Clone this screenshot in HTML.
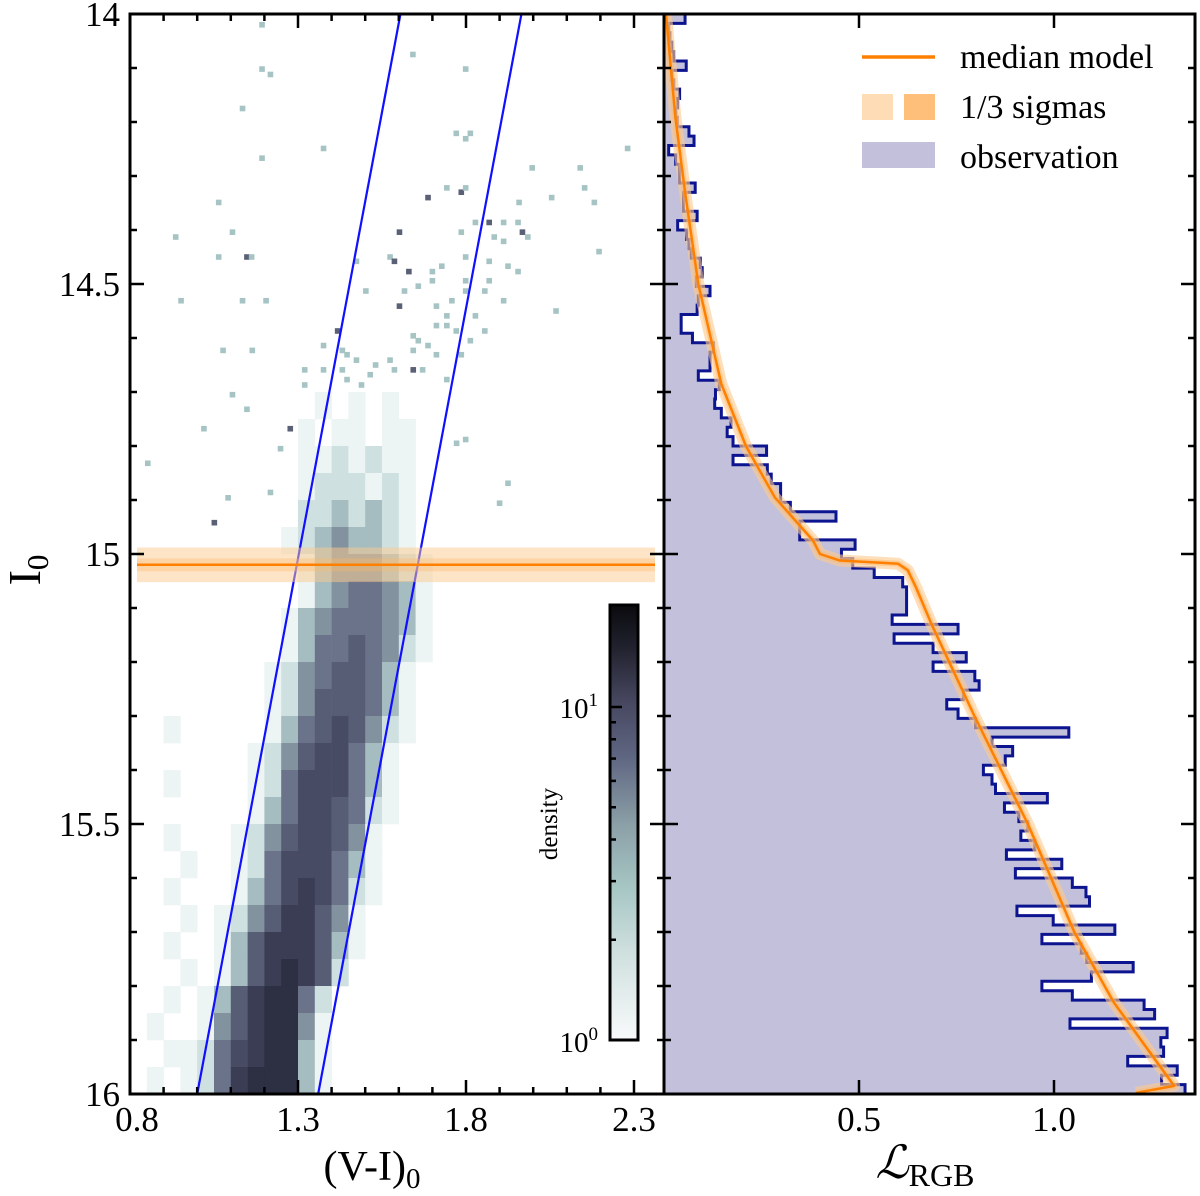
<!DOCTYPE html>
<html><head><meta charset="utf-8"><style>
html,body{margin:0;padding:0;background:#fff;}
svg{display:block;font-family:"Liberation Serif",serif;}
</style></head><body>
<svg id="chart" width="1200" height="1196" viewBox="0 0 1200 1196" xmlns="http://www.w3.org/2000/svg">
<defs>
<linearGradient id="cbar" x1="0" y1="1" x2="0" y2="0">
<stop offset="0" stop-color="#f8fafa"/><stop offset="0.2" stop-color="#cfe0df"/><stop offset="0.35" stop-color="#a6c6c4"/>
<stop offset="0.5" stop-color="#8a9ea6"/><stop offset="0.65" stop-color="#5f6682"/><stop offset="0.78" stop-color="#46465f"/>
<stop offset="0.9" stop-color="#22222f"/><stop offset="1" stop-color="#0a0a0e"/></linearGradient>
<clipPath id="clipL"><rect x="130" y="14" width="534" height="1080"/></clipPath>
<clipPath id="clipR"><rect x="664" y="14" width="531" height="1080"/></clipPath>
</defs>
<g id="left" clip-path="url(#clipL)"></g>
<g id="right" clip-path="url(#clipR)"></g>
<g id="axes"></g>
</svg>
<script>
// ---- data ----
const gridMagStart = 14.70;
const gridColorStart = 0.85;
const gridRows = [
"0000000000101010000000","0000000001011011000000","0000000001121211000000","0000000001222121000000",
"0000000002232321000000","0000000012343321000000","0000000001344432100000","0000000001345543100000",
"0000000013455543100000","0000000013556542100000","0000000124566531000000","0000000124666531000000",
"0100000135676421000000","0000001246775310000000","0100001257775310000000","0000001357765210000000",
"0100012467764100000000","0010012577753100000000","0100013578752100000000","0010124688641000000000",
"0100136888631000000000","0010136898620000000000","0101368995200000000000","1001468994100000000000",
"0112578993100000000000","1012589993100000000000"];
const ptsColor = [1.193,1.642,1.193,1.218,1.799,1.135,1.771,1.799,1.813,1.376,2.281,1.193,1.997,2.140,1.743,1.786,1.799,1.687,1.064,2.153,2.182,1.958,2.055,1.828,1.869,1.912,1.955,1.602,1.786,1.968,1.884,1.984,1.912,0.936,1.105,1.064,1.148,1.162,2.196,1.474,1.574,1.587,1.799,1.869,1.630,1.700,1.728,1.925,1.955,1.700,1.799,1.869,0.952,1.135,1.205,1.502,1.617,1.658,1.799,1.856,1.602,1.712,1.758,1.912,2.068,1.743,1.828,1.712,1.743,1.771,1.856,1.418,1.643,1.658,1.687,1.813,1.376,1.077,1.164,1.432,1.446,1.643,1.712,1.786,1.474,1.574,1.320,1.376,1.432,1.531,1.587,1.643,1.671,1.515,1.446,1.743,1.320,1.489,1.105,1.148,1.020,1.277,0.853,1.925,1.900,1.218,1.092,1.051,1.248,1.772,1.799];
const ptsMag = [14.020,14.075,14.102,14.112,14.102,14.175,14.221,14.231,14.221,14.249,14.249,14.267,14.285,14.285,14.322,14.330,14.322,14.340,14.349,14.322,14.349,14.349,14.340,14.386,14.386,14.386,14.386,14.404,14.404,14.404,14.413,14.413,14.421,14.413,14.404,14.450,14.450,14.450,14.440,14.458,14.450,14.458,14.450,14.458,14.477,14.477,14.467,14.467,14.477,14.494,14.494,14.494,14.531,14.531,14.531,14.513,14.513,14.504,14.513,14.513,14.541,14.541,14.531,14.531,14.550,14.559,14.559,14.577,14.577,14.587,14.587,14.587,14.596,14.605,14.614,14.605,14.614,14.623,14.623,14.623,14.631,14.623,14.631,14.631,14.641,14.641,14.659,14.659,14.659,14.650,14.659,14.659,14.659,14.668,14.677,14.677,14.687,14.687,14.705,14.732,14.768,14.768,14.832,14.869,14.906,14.886,14.896,14.942,14.805,14.795,14.788];
const ptsDark = [0,0,0,0,0,0,0,0,0,0,0,0,0,0,0,1,0,1,0,0,0,0,0,0,1,0,0,1,0,1,0,0,0,0,0,0,1,0,0,0,0,1,0,0,1,0,0,0,0,0,0,0,0,0,0,0,0,0,0,0,1,0,0,0,0,0,0,0,0,0,0,1,0,0,0,0,0,0,0,0,0,0,0,0,0,0,0,0,0,0,0,1,0,0,0,0,0,0,0,0,0,1,0,0,0,0,0,1,0,0,0];
const boxLeftColor = [1.0, 1.605];
const boxRightColor = [1.36, 1.965];
const boxMag = [16.0, 14.0];
const trgbMag = 15.02;
const trgbSig1 = 0.012;
const trgbSig3 = 0.032;
const histStart = 14.0, histEnd = 16.0;
const histValues = [0.054,0.012,0.015,0.02,0.025,0.057,0.02,0.025,0.04,0.035,0.03,0.034,0.064,0.077,0.012,0.03,0.04,0.04,0.08,0.05,0.05,0.085,0.035,0.058,0.064,0.07,0.093,0.098,0.083,0.118,0.088,0.085,0.044,0.044,0.073,0.127,0.118,0.118,0.088,0.142,0.132,0.13,0.147,0.172,0.162,0.177,0.263,0.177,0.265,0.275,0.299,0.299,0.324,0.441,0.348,0.348,0.49,0.455,
0.484,0.539,0.612,0.622,0.622,0.622,0.585,0.754,0.590,0.690,0.775,0.690,0.797,0.808,0.768,0.725,0.754,0.799,1.038,0.841,0.894,0.875,0.819,0.841,0.850,0.983,0.873,0.910,0.933,0.915,0.951,0.878,1.020,0.901,1.047,1.082,1.091,0.905,0.998,1.156,0.969,1.070,1.084,1.203,1.096,0.969,1.047,1.231,1.258,1.041,1.290,1.274,1.281,1.189,1.316,1.276,1.336];
const modelMag = [14.0,14.19,14.33,14.5,14.685,14.8,14.895,14.975,15.0,15.012,15.018,15.03,15.06,15.13,15.3,15.5,15.7,15.83,15.985,15.998];
const modelL =   [0.005,0.029,0.054,0.088,0.147,0.21,0.284,0.382,0.40,0.45,0.60,0.625,0.645,0.686,0.796,0.933,1.052,1.153,1.308,1.21];
const xTicksLeft = [0.8,1.3,1.8,2.3];
const xTicksRight = [0.5,1.0];
const yTicks = [14,14.5,15,15.5,16];

// ---- scales ----
const lx = c => 130 + (c - 0.8) * 336;
const yy = m => 14 + (m - 14) * 540;
const rx = L => 664 + L * 390;
const NS = "http://www.w3.org/2000/svg";
function mk(tag, attrs, parent){ const e=document.createElementNS(NS,tag); for(const k in attrs) e.setAttribute(k,attrs[k]); parent.appendChild(e); return e; }
const L = document.getElementById('left'), R = document.getElementById('right'), A = document.getElementById('axes');
const levelCol = [null,'#edf4f4','#cfe0e0','#a5bcc0','#82929f','#6a738a','#575d75','#474b63','#3a3d53','#2d2f42'];

// grid
gridRows.forEach((row, i) => {
  for (let j = 0; j < row.length; j++) {
    const v = +row[j]; if (!v) continue;
    const c0 = gridColorStart + j*0.05, m0 = gridMagStart + i*0.05;
    const r = mk('rect',{x:lx(c0),y:yy(m0),width:lx(c0+0.05)-lx(c0)+0.3,height:yy(m0+0.05)-yy(m0)+0.3,fill:levelCol[v]},L);
    
    
  }
});
// sparse points
ptsColor.forEach((c, i) => {
  const r = mk('rect',{x:lx(c)-2.8,y:yy(ptsMag[i])-2.8,width:5.6,height:5.6,fill:ptsDark[i]?'#5a6076':'#a6c4c4'},L);
  
  
});
// blue selection lines
[boxLeftColor, boxRightColor].forEach((cs, k) => {
  const l = mk('line',{x1:lx(cs[0]),y1:yy(boxMag[0]),x2:lx(cs[1]),y2:yy(boxMag[1]),stroke:'#1010ff','stroke-width':2.2},L);
  
  
});
// trgb band
const b3 = mk('rect',{x:137,y:yy(trgbMag-trgbSig3),width:518,height:yy(trgbMag+trgbSig3)-yy(trgbMag-trgbSig3),fill:'#fdc98e','fill-opacity':0.5},L);


const b1 = mk('rect',{x:137,y:yy(trgbMag-trgbSig1),width:518,height:yy(trgbMag+trgbSig1)-yy(trgbMag-trgbSig1),fill:'#fdb86a','fill-opacity':0.35},L);


const tl = mk('line',{x1:137,x2:655,y1:yy(trgbMag),y2:yy(trgbMag),stroke:'#ff8000','stroke-width':2.5},L);



// histogram
const nb = histValues.length, bw = (histEnd-histStart)/nb;
let fillD = `M${rx(0)},${yy(histStart)}`, lineD = '';
histValues.forEach((v,i) => {
  const t = yy(histStart+i*bw), b = yy(histStart+(i+1)*bw);
  fillD += ` L${rx(v)},${t} L${rx(v)},${b}`;
  lineD += (i===0?`M${rx(v)},${t}`:` L${rx(v)},${t}`) + ` L${rx(v)},${b}`;
});
fillD += ` L${rx(0)},${yy(histEnd)} Z`;
const hf = mk('path',{d:fillD,fill:'#c2c0da'},R);


const hl = mk('path',{d:lineD,fill:'none',stroke:'#0d1490','stroke-width':3,'stroke-linejoin':'miter'},R);


// model
const md = modelMag.map((m,i)=>(i?'L':'M')+rx(modelL[i])+','+yy(m)).join(' ');
const mb3 = mk('path',{d:md,fill:'none',stroke:'#fdc98e','stroke-opacity':0.6,'stroke-width':12,'stroke-linejoin':'round'},R);


const mb1 = mk('path',{d:md,fill:'none',stroke:'#fdb86a','stroke-opacity':0.5,'stroke-width':6,'stroke-linejoin':'round'},R);


const ml = mk('path',{d:md,fill:'none',stroke:'#ff8000','stroke-width':2.5,'stroke-linejoin':'round'},R);



// ---- axes ----
function tick(x1,y1,x2,y2,name){ const t=mk('line',{x1,y1,x2,y2,stroke:'#000','stroke-width':2.5},A);   }
function txt(x,y,s,size,anchor,name){ const t=mk('text',{x,y,'font-size':size,'text-anchor':anchor,fill:'#000'},A); t.textContent=s;   return t; }
for (let k=0;k<=20;k++){
  const m = 14 + k*0.1, y = yy(m), maj = k%5===0, len = maj?14:7;
  tick(130,y,130+len,y,'y-tick'); tick(664,y,664-len,y,'y-tick'); tick(664,y,664+len,y,'y-tick'); tick(1195,y,1195-len,y,'y-tick');
}
yTicks.forEach(m => txt(120, yy(m)+12, String(m), 35, 'end', 'y-tick-label'));
for (let k=0;k<=15;k++){
  const c = 0.8 + k*0.1, x = lx(c), maj = k%5===0, len = maj?14:7;
  if (x>664) break;
  tick(x,1094,x,1094-len,'x-tick'); tick(x,14,x,14+len,'x-tick');
}
xTicksLeft.forEach(c => txt(lx(c)+(c===0.8?7:0), 1131, c.toFixed(1), 35, 'middle', 'x-tick-label'));
xTicksRight.forEach(v => { tick(rx(v),1094,rx(v),1080,'x-tick'); tick(rx(v),14,rx(v),28,'x-tick'); txt(rx(v),1131,v.toFixed(1),35,'middle','x-tick-label'); });
const sp = mk('rect',{x:130,y:14,width:534,height:1080,fill:'none',stroke:'#000','stroke-width':3},A);
 
const sp2 = mk('rect',{x:664,y:14,width:531,height:1080,fill:'none',stroke:'#000','stroke-width':3},A);
 
const yl = mk('text',{x:0,y:0,'font-size':46,transform:'translate(40,570) rotate(-90)',fill:'#000','text-anchor':'middle'},A);
yl.innerHTML = 'I<tspan font-size="31" dy="8">0</tspan>';
 
const xl = mk('text',{x:372,y:1180,'font-size':42,'text-anchor':'middle',fill:'#000'},A);
xl.innerHTML = '(V-I)<tspan font-size="29" dy="8">0</tspan>';
 
const xr = mk('text',{x:925,y:1178,'font-size':46,'text-anchor':'middle',fill:'#000','font-style':'italic'},A);
xr.innerHTML = 'ℒ<tspan font-size="32" font-style="normal" dy="8">RGB</tspan>';
 
const cb = mk('rect',{x:610,y:605,width:28,height:435,fill:'url(#cbar)',stroke:'#000','stroke-width':3},A);
 
const dec = 333;
tick(610,1040-dec,622,1040-dec,'colorbar-tick');
[2,3,4,5,6,7,8,9].forEach(v=>tick(610,1040-dec*Math.log10(v),616,1040-dec*Math.log10(v),'colorbar-minor-tick'));
const c1 = mk('text',{x:598,y:718,'font-size':29,'text-anchor':'end',fill:'#000'},A); c1.innerHTML='10<tspan font-size="19" dy="-12">1</tspan>';
 
const c0 = mk('text',{x:598,y:1052,'font-size':29,'text-anchor':'end',fill:'#000'},A); c0.innerHTML='10<tspan font-size="19" dy="-12">0</tspan>';
 
const dl = mk('text',{x:0,y:0,'font-size':25,transform:'translate(557,824) rotate(-90)','text-anchor':'middle',fill:'#000'},A);
dl.textContent='density';  
const lg = mk('g',{},A);  
const l1 = mk('line',{x1:862,x2:935,y1:57,y2:57,stroke:'#ff8000','stroke-width':3.5},lg);  
const s1 = mk('rect',{x:862,y:94,width:31,height:26,fill:'#fedcb6'},lg);  
const s3 = mk('rect',{x:904,y:94,width:31,height:26,fill:'#fdbf7a'},lg);  
const s4 = mk('rect',{x:862,y:142,width:73,height:26,fill:'#c2c0da'},lg);  
[['median model',68,'legend-entry-median'],['1/3 sigmas',118,'legend-entry-sigmas'],['observation',168,'legend-entry-observation']].forEach(e=>{
  const t=mk('text',{x:960,y:e[1],'font-size':34,fill:'#000'},lg); t.textContent=e[0];  
});
</script>
</body></html>
